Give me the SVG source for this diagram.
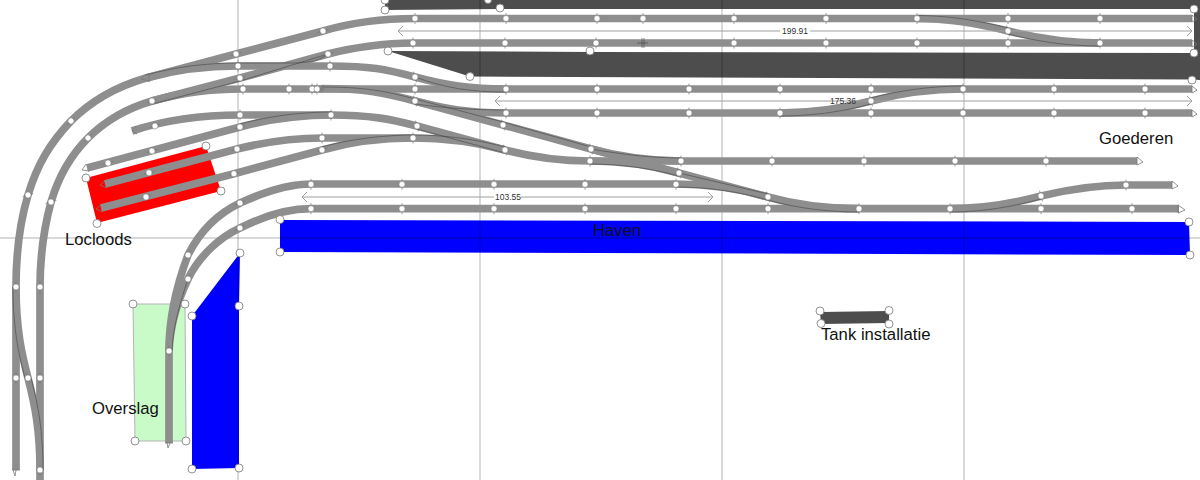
<svg xmlns="http://www.w3.org/2000/svg" xmlns:xlink="http://www.w3.org/1999/xlink" width="1200" height="480" viewBox="0 0 1200 480">
<style>
text{font-family:"Liberation Sans",Arial,sans-serif;fill:#111}
.lbl{font-size:16.7px}
.dim{font-size:8.5px;fill:#333}
.grid{stroke:#000;stroke-opacity:.3;stroke-width:1;fill:none}
.tr{fill:none;stroke:#8e8e8e;stroke-width:7.7}
.ed{fill:none;stroke:#444;stroke-width:.6}
.dl{fill:none;stroke:#a0a0a0;stroke-width:1}
.fl{fill:none;stroke:#777;stroke-width:.8}
.h{fill:#fff;stroke:#777;stroke-width:.8}
.j circle{fill:#fff;stroke:#777;stroke-width:.5}
.tk{stroke:#777;stroke-width:.7}
</style>
<defs>
<g id="j" class="j"><line class="tk" x1="0" y1="-5.5" x2="0" y2="5.5"/><circle r="3"/></g>
</defs>
<rect width="1200" height="480" fill="#fff"/>
<g id="areas">
<g id="tank-top"><path fill="#4d4d4d" d="M385,0H1200V9H500L385,10Z"/><path fill="#4d4d4d" d="M1194,9H1200V53H1194Z"/></g>
<g id="tank-main"><path fill="#4d4d4d" d="M388,51L590,52L1200,53V80L1192,79.5L470,76.5Z"/></g>
<g id="locloods"><path fill="#f00" d="M86,178L206,146L221,191L97,223Z"/></g>
<g id="haven"><path fill="#00f" d="M280,220L1189,222L1190,255L280,252Z"/></g>
<g id="kade"><path fill="#00f" d="M240,253L239,306V468L192,469V316Z"/></g>
<g id="overslag"><path fill="#c9fbc9" stroke="#b4b4b4" d="M133,304H185L186,441L135,441Z"/></g>
<g id="tank-installatie"><path fill="#4d4d4d" d="M820,312L889,311L889,323L821,324Z"/></g>
</g>
<g id="grid">
<path class="grid" d="M238,0V480M480,0V480M722,0V480M964,0V480M0,238H1200"/>
</g>
<g id="connectors">
<path class="tr" d="M16,470V287C16,250 20,222 28,195C37,165 50,143 71,121C92,100 115,87 146,78L236,54L323,31C350,23 385,18.5 415,18.5H1192"/>
<path class="tr" d="M40,480V287C40,255 44,228 51,202C59,175 71,155 88,138C106,120 128,108 152,101L240,78L328,54C350,48 385,43 413,43H1192"/>
<path class="tr" d="M146,78C175,70 205,66 238,66H330C370,66 385,69 415,77C445,85 470,89 506,89"/>
<path class="tr" d="M152,101C185,92 210,89 243,89H1192"/>
<path class="tr" d="M322,88.5C365,88.5 385,93 415,101C445,109 470,113 506,113H1192"/>
<path class="tr" d="M415,101L503,125L591,149L679,173L768,197C800,206 830,208.7 859,208.7"/>
<path class="tr" d="M591,149C620,157 650,161 681,161"/>
<path class="tr" d="M132,131C165,120 205,115 240,115H331C370,115 390,119 417,126L505,150C535,158 560,161 590,161H1137"/>
<path class="tr" d="M590,161C620,161 650,165 679,173"/>
<path class="tr" d="M87,168L240,127C270,119 300,115 332,115"/>
<path class="tr" d="M105,184L237,149C265,142 295,138 322,138H413C445,138 475,142 505,150"/>
<path class="tr" d="M101,208L234,173.7L322,150C350,142 385,138 413,138"/>
<path class="tr" d="M169,443V351C169,320 176,287 188,255C198,235 215,215 240,203C260,194 285,184 311,184H676C710,184 740,189 768,197"/>
<path class="tr" d="M169,351C170,325 178,300 188,279C198,258 218,238 240,228C262,217 285,208.7 311,208.7H1179"/>
<path class="tr" d="M950,208.7C985,208.7 1015,203 1041,196C1070,189 1095,185 1126,185H1172"/>
<path class="tr" d="M16,287C16,330 22,355 28,378C35,405 40,430 40,470"/>
<path class="tr" d="M917,18.500C950,18.500 980,24 1008,31C1036,38 1065,43 1100,43"/>
<path class="tr" d="M780,113C815,113 845,108 871,101C897,94 930,89 963,89"/>
<g id="edges">
<path class="ed" d="M146,75C175,67 205,63 238,63H290C305,63 318,62 328,54"/>
<path class="ed" d="M152,104L240,81L328,54"/>
<path class="ed" d="M322,87C365,87 385,91 415,99L503,122L591,147"/>
<path class="ed" d="M415,77C445,88 470,92 506,92"/>
<path class="ed" d="M415,104C445,108 470,110 506,110"/>
<path class="ed" d="M417,129L505,153M413,135C445,135 475,139 505,147"/>
<path class="ed" d="M591,149C620,154 650,158 681,158M590,164C620,164 650,168 679,176"/>
<path class="ed" d="M679,173L768,194M676,187C710,187 740,192 768,200"/>
<path class="ed" d="M768,200C800,209 830,212 859,212"/>
<path class="ed" d="M240,124C270,116 300,112 332,112M322,147C350,139 385,135 413,135"/>
<path class="ed" d="M917,15.500C950,15.500 980,21 1008,28M1008,34C1036,41 1065,46 1100,46"/>
<path class="ed" d="M780,116C815,116 845,111 871,104M871,98C897,91 930,86 963,86"/>
<path class="ed" d="M950,212C985,212 1015,206 1041,199"/>
<path class="ed" d="M13,287C13,330 19,355 25,378M31,378C38,405 43,430 43,470"/>
<path class="ed" d="M172,351C173,325 181,300 188,279"/>
</g>
<g id="ends">
<path class="fl" d="M146,74L141,79L150,81M149,74V82M136,126L132,131L137,134M86,164L82,170L89,171M105,181L100,185L107,188M101,205L96,209L103,212M312,85V93M315,85V93M320,85V93M322,85L325,89L316,89M322,85V93"/>
<path class="ed" d="M642,38V48M644,38V48M637,43H648"/>
<path class="fl" d="M1192,15V22L1197,19ZM1192,40V47L1197,44ZM1192,86V93L1197,90ZM1192,110V117L1197,114ZM1137,157V165L1143,162ZM1172,181V189L1178,186ZM1178,205V213L1185,210ZM12,470H20M13,470L15,476L16,470M165,443H173M167,443L168,448L170,443M36,470H44"/>
</g>
<g id="dimensions">
<path class="dl" d="M403,26L398,31L403,36M398,31H780M810,31H1192M1187,26L1192,31L1187,36"/>
<text class="dim" x="795" y="34" text-anchor="middle">199.91</text>
<path class="dl" d="M500,96L495,101L500,106M495,101H1192M1187,96L1192,101L1187,106"/>
<text class="dim" x="843" y="104" text-anchor="middle">175.36</text>
<path class="dl" d="M307,192L302,197L307,202M302,197H494M521,197H713M708,192L713,197L708,202"/>
<text class="dim" x="508" y="200" text-anchor="middle">103.55</text>
</g>
</g>
<g id="joints">
<use href="#j" transform="translate(16,287)"/><use href="#j" transform="translate(16,378)"/><use href="#j" transform="translate(40,287)"/><use href="#j" transform="translate(40,378)"/><use href="#j" transform="translate(40,470)"/><use href="#j" transform="translate(28,378) rotate(-15)"/>
<use href="#j" transform="translate(28,195) rotate(75)"/><use href="#j" transform="translate(71,121) rotate(45)"/><use href="#j" transform="translate(51,202) rotate(75)"/><use href="#j" transform="translate(88,138) rotate(45)"/>
<use href="#j" transform="translate(236,54) rotate(75)"/><use href="#j" transform="translate(323,31) rotate(75)"/><use href="#j" transform="translate(152,101) rotate(75)"/><use href="#j" transform="translate(240,78) rotate(75)"/><use href="#j" transform="translate(328,54) rotate(75)"/>
<use href="#j" transform="translate(238,66)"/><use href="#j" transform="translate(330,66)"/><use href="#j" transform="translate(415,77) rotate(-15)"/>
<use href="#j" transform="translate(243,89)"/><use href="#j" transform="translate(289,89)"/><use href="#j" transform="translate(312,89)"/><use href="#j" transform="translate(317,89)"/>
<use href="#j" transform="translate(415,89)"/><use href="#j" transform="translate(415,101) rotate(-15)"/><use href="#j" transform="translate(503,125) rotate(-15)"/><use href="#j" transform="translate(591,149) rotate(-15)"/><use href="#j" transform="translate(679,173) rotate(-15)"/><use href="#j" transform="translate(768,197) rotate(-15)"/>
<use href="#j" transform="translate(155,126) rotate(70)"/><use href="#j" transform="translate(240,115)"/><use href="#j" transform="translate(331,115)"/><use href="#j" transform="translate(417,126) rotate(-15)"/><use href="#j" transform="translate(505,150) rotate(-15)"/><use href="#j" transform="translate(590,161)"/>
<use href="#j" transform="translate(108,163) rotate(75)"/><use href="#j" transform="translate(152,151) rotate(75)"/><use href="#j" transform="translate(240,127) rotate(75)"/>
<use href="#j" transform="translate(149,172.7) rotate(75)"/><use href="#j" transform="translate(237,149) rotate(75)"/><use href="#j" transform="translate(322,138)"/><use href="#j" transform="translate(413,138)"/>
<use href="#j" transform="translate(146,197) rotate(75)"/><use href="#j" transform="translate(234,173.7) rotate(75)"/><use href="#j" transform="translate(322,150) rotate(75)"/>
<use href="#j" transform="translate(169,351)"/><use href="#j" transform="translate(188,255) rotate(25)"/><use href="#j" transform="translate(188,279) rotate(25)"/><use href="#j" transform="translate(240,203) rotate(65)"/><use href="#j" transform="translate(240,228) rotate(65)"/>
<use href="#j" transform="translate(415,18.5)"/><use href="#j" transform="translate(506,18.5)"/><use href="#j" transform="translate(597,18.5)"/><use href="#j" transform="translate(643,18.5)"/><use href="#j" transform="translate(734,18.5)"/><use href="#j" transform="translate(826,18.5)"/><use href="#j" transform="translate(917,18.5)"/><use href="#j" transform="translate(1008,18.5)"/><use href="#j" transform="translate(1100,18.5)"/>
<use href="#j" transform="translate(413,43)"/><use href="#j" transform="translate(505,43)"/><use href="#j" transform="translate(596,43)"/><use href="#j" transform="translate(734,43)"/><use href="#j" transform="translate(826,43)"/><use href="#j" transform="translate(917,43)"/><use href="#j" transform="translate(1008,43)"/><use href="#j" transform="translate(1100,43)"/><use href="#j" transform="translate(1008,31) rotate(-15)"/>
<use href="#j" transform="translate(506,89)"/><use href="#j" transform="translate(597,89)"/><use href="#j" transform="translate(689,89)"/><use href="#j" transform="translate(780,89)"/><use href="#j" transform="translate(871,89)"/><use href="#j" transform="translate(963,89)"/><use href="#j" transform="translate(1054,89)"/><use href="#j" transform="translate(1145,89)"/>
<use href="#j" transform="translate(506,113)"/><use href="#j" transform="translate(597,113)"/><use href="#j" transform="translate(689,113)"/><use href="#j" transform="translate(780,113)"/><use href="#j" transform="translate(871,113)"/><use href="#j" transform="translate(963,113)"/><use href="#j" transform="translate(1054,113)"/><use href="#j" transform="translate(1145,113)"/><use href="#j" transform="translate(871,101) rotate(-15)"/>
<use href="#j" transform="translate(681,161)"/><use href="#j" transform="translate(772,161)"/><use href="#j" transform="translate(864,161)"/><use href="#j" transform="translate(955,161)"/><use href="#j" transform="translate(1046,161)"/>
<use href="#j" transform="translate(311,184.3)"/><use href="#j" transform="translate(402,184.3)"/><use href="#j" transform="translate(494,184.3)"/><use href="#j" transform="translate(585,184.3)"/><use href="#j" transform="translate(676,184.3)"/>
<use href="#j" transform="translate(311,208.7)"/><use href="#j" transform="translate(402,208.7)"/><use href="#j" transform="translate(494,208.7)"/><use href="#j" transform="translate(585,208.7)"/><use href="#j" transform="translate(676,208.7)"/><use href="#j" transform="translate(768,208.7)"/><use href="#j" transform="translate(859,208.7)"/><use href="#j" transform="translate(950,208.7)"/><use href="#j" transform="translate(1041,208.7)"/><use href="#j" transform="translate(1132,208.7)"/>
<use href="#j" transform="translate(1041,196) rotate(-15)"/><use href="#j" transform="translate(1126,185)"/>
</g>
<g id="handles">
<g class="h">
<circle cx="385" cy="0" r="4"/><circle cx="385" cy="10" r="4"/><circle cx="488" cy="0" r="3.5"/><circle cx="500" cy="8" r="4"/><circle cx="1194" cy="9" r="4"/><circle cx="1194" cy="53" r="4"/>
<circle cx="388" cy="51" r="4"/><circle cx="470" cy="76.5" r="4"/><circle cx="590" cy="51" r="4"/><circle cx="1192" cy="80" r="4"/>
<circle cx="86" cy="178" r="4"/><circle cx="206" cy="146" r="4"/><circle cx="221" cy="191" r="4"/><circle cx="97" cy="223.500" r="4"/>
<circle cx="280" cy="219.500" r="4"/><circle cx="280" cy="252" r="4"/><circle cx="1189" cy="222" r="4"/><circle cx="1190" cy="255" r="4"/>
<circle cx="240" cy="253" r="4"/><circle cx="239" cy="306" r="4"/><circle cx="239" cy="468" r="4"/><circle cx="192" cy="469" r="4"/><circle cx="192" cy="316" r="4"/>
<circle cx="133" cy="304" r="4"/><circle cx="185" cy="304" r="4"/><circle cx="186" cy="441" r="4"/><circle cx="135" cy="441" r="4"/>
<circle cx="820" cy="311" r="4"/><circle cx="889" cy="310.500" r="4"/><circle cx="889" cy="324" r="4"/><circle cx="821" cy="323.500" r="4"/>
</g>
</g>
<g id="labels">
<text class="lbl" x="65" y="245">Locloods</text>
<text class="lbl" x="593" y="236">Haven</text>
<text class="lbl" x="1099" y="144">Goederen</text>
<text class="lbl" x="92" y="414">Overslag</text>
<text class="lbl" x="821" y="340">Tank installatie</text>
</g>
</svg>
